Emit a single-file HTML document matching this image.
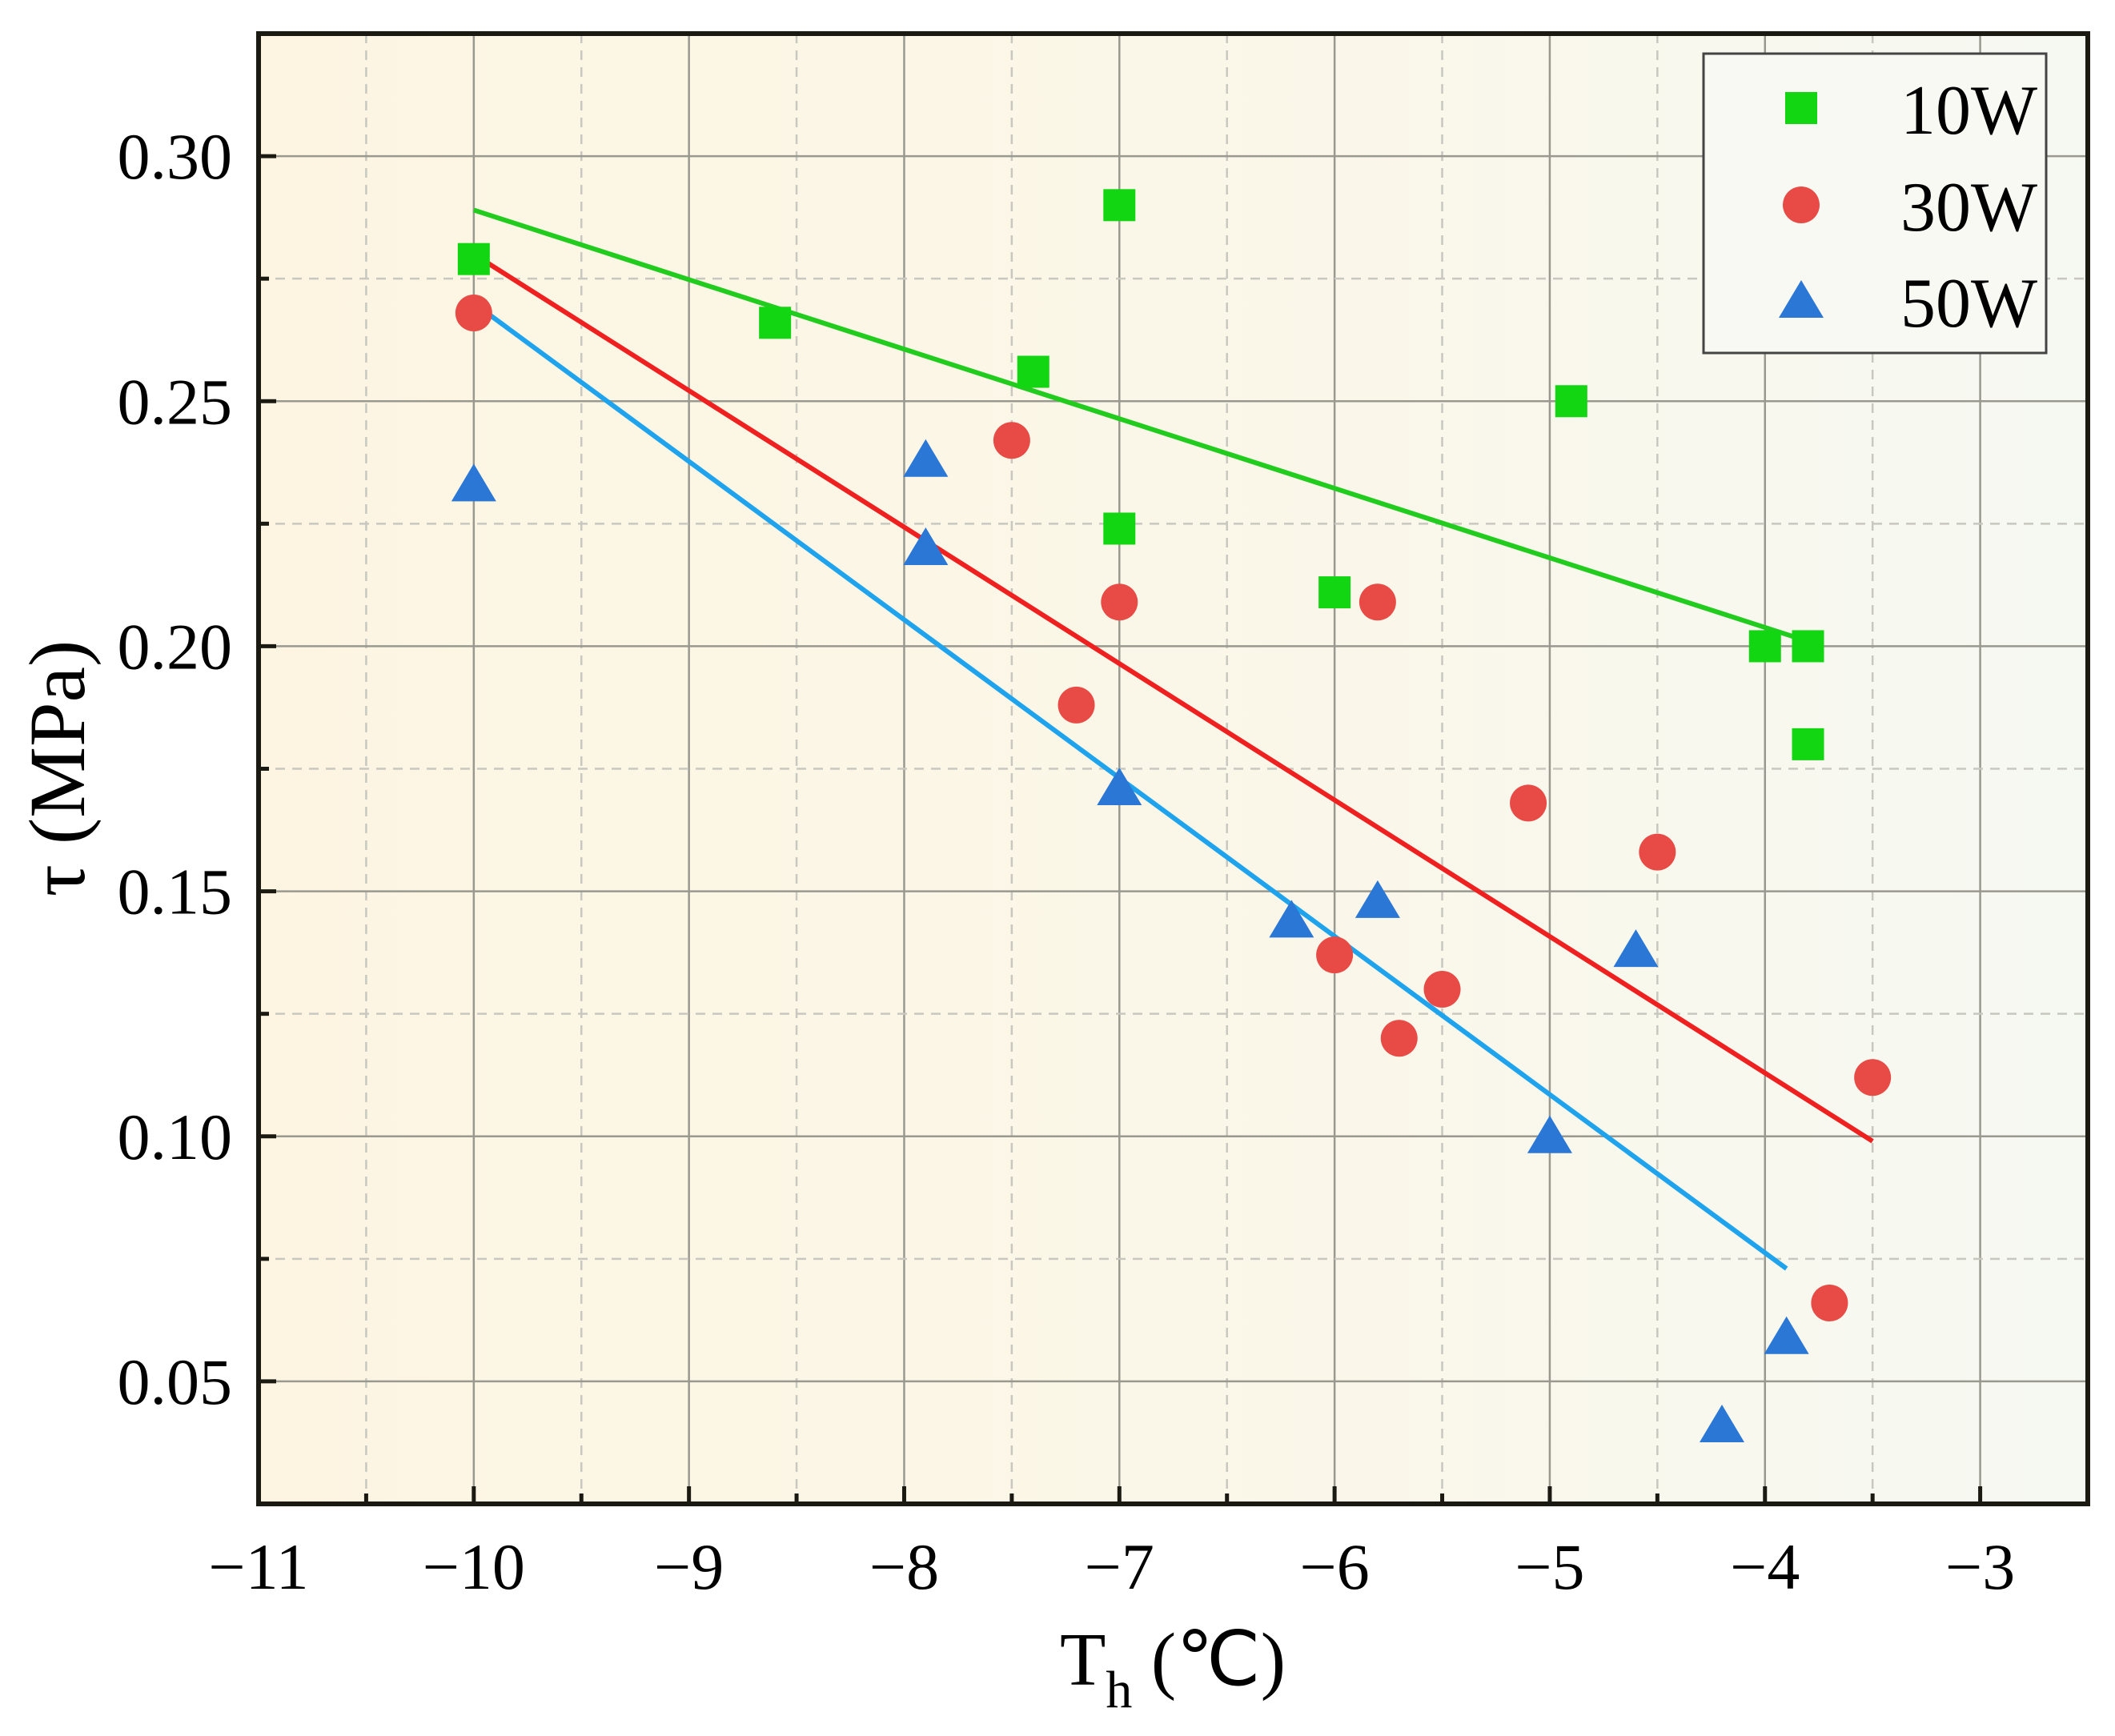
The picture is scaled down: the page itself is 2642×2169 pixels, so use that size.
<!DOCTYPE html>
<html><head><meta charset="utf-8"><style>
html,body{margin:0;padding:0;background:#fff;}
svg{display:block;font-family:"Liberation Serif",serif;}
</style></head><body>
<svg id="chart" width="2642" height="2169" viewBox="0 0 2642 2169" xmlns="http://www.w3.org/2000/svg">
<defs>
<linearGradient id="bg" x1="0" y1="0" x2="1" y2="0">
<stop offset="0" stop-color="#fdf5e2"/><stop offset="0.5" stop-color="#fbf7e8"/><stop offset="1" stop-color="#f6f8f2"/>
</linearGradient>
</defs>
<g id="root"></g>
</svg>
<script>
const xTicks=[-11,-10,-9,-8,-7,-6,-5,-4,-3];
const yTicks=[0.05,0.10,0.15,0.20,0.25,0.30];
const yTickLabels=["0.05","0.10","0.15","0.20","0.25","0.30"];
const x10=[-10,-8.6,-7.4,-7,-7,-4.9,-6,-4,-3.8,-3.8];
const y10=[0.279,0.266,0.256,0.290,0.224,0.250,0.211,0.200,0.200,0.180];
const x30=[-10,-7.5,-7,-7.2,-5.8,-6,-5.7,-5.5,-5.1,-4.5,-3.5,-3.7];
const y30=[0.268,0.242,0.209,0.188,0.209,0.137,0.120,0.130,0.168,0.158,0.112,0.066];
const x50=[-10,-7.9,-7.9,-7,-6.2,-5.8,-4.6,-5,-3.9,-4.2];
const y50=[0.233,0.238,0.220,0.171,0.144,0.148,0.138,0.100,0.059,0.041];
const fit10x=[-10,-3.8], fit10y=[0.289,0.201];
const fit30x=[-10,-3.5], fit30y=[0.280,0.099];
const fit50x=[-10,-3.9], fit50y=[0.270,0.073];

const L=323,R=2608,T=42,B=1879,X0=-11,X1=-2.5,Y0=0.025,Y1=0.325;
const sx=v=>L+(v-X0)/(X1-X0)*(R-L);
const sy=v=>B-(v-Y0)/(Y1-Y0)*(B-T);
const NS="http://www.w3.org/2000/svg";
const root=document.getElementById('root');
function mk(tag,attrs,parent){const e=document.createElementNS(NS,tag);for(const k in attrs)e.setAttribute(k,attrs[k]);(parent||root).appendChild(e);return e;}

const bg=mk('rect',{x:L,y:T,width:R-L,height:B-T,fill:'url(#bg)'});



const grid=mk('g',{});


for(let v=-10.5;v<X1;v+=1){mk('line',{x1:sx(v),x2:sx(v),y1:T,y2:B,stroke:'#c8c8c0','stroke-width':2.5,'stroke-dasharray':'12 9'},grid);}
for(let i=1;i<xTicks.length;i++){if(xTicks[i]<X1)mk('line',{x1:sx(xTicks[i]),x2:sx(xTicks[i]),y1:T,y2:B,stroke:'#999990','stroke-width':2.5},grid);}
for(let i=0;i<yTicks.length;i++){mk('line',{x1:L,x2:R,y1:sy(yTicks[i]),y2:sy(yTicks[i]),stroke:'#999990','stroke-width':2.5},grid);}
for(let i=0;i<yTicks.length;i++){const v=yTicks[i]+0.025;if(v<Y1)mk('line',{x1:L,x2:R,y1:sy(v),y2:sy(v),stroke:'#c8c8c0','stroke-width':2.5,'stroke-dasharray':'12 9'},grid);}

function fit(xs,ys,color,name){const l=mk('line',{x1:sx(xs[0]),y1:sy(ys[0]),x2:sx(xs[1]),y2:sy(ys[1]),stroke:color,'stroke-width':6});

}
fit(fit10x,fit10y,'#22cc1e','fit-line-10w');
fit(fit30x,fit30y,'#ee2020','fit-line-30w');
fit(fit50x,fit50y,'#1ea3ec','fit-line-50w');

function sq(cx,cy,p){return mk('rect',{x:cx-20,y:cy-20,width:40,height:40,fill:'#13d613'},p);}
function ci(cx,cy,p){return mk('circle',{cx:cx,cy:cy,r:23,fill:'#e84a45'},p);}
function tri(cx,cy,p){return mk('polygon',{points:`${cx},${cy-26} ${cx+28},${cy+21} ${cx-28},${cy+21}`,fill:'#2a77d6'},p);}
const g10=mk('g',{});
for(let i=0;i<x10.length;i++){const m=sq(sx(x10[i]),sy(y10[i]),g10);

}
const g30=mk('g',{});
for(let i=0;i<x30.length;i++){const m=ci(sx(x30[i]),sy(y30[i]),g30);

}
const g50=mk('g',{});
for(let i=0;i<x50.length;i++){const m=tri(sx(x50[i]),sy(y50[i]),g50);

}

const frame=mk('rect',{x:L,y:T,width:R-L,height:B-T,fill:'none',stroke:'#1a1a12','stroke-width':6});


for(let i=0;i<xTicks.length;i++){const x=sx(xTicks[i]);
mk('line',{x1:x,x2:x,y1:B,y2:B-22,stroke:'#1a1a12','stroke-width':5});
if(xTicks[i]+0.5<X1)mk('line',{x1:sx(xTicks[i]+0.5),x2:sx(xTicks[i]+0.5),y1:B,y2:B-13,stroke:'#1a1a12','stroke-width':5});
const t=mk('text',{x:x,y:1985,'font-size':82,'text-anchor':'middle',fill:'#000'});
t.textContent='\u2212'+Math.abs(xTicks[i]);

}
for(let i=0;i<yTicks.length;i++){const y=sy(yTicks[i]);
mk('line',{x1:L,x2:L+22,y1:y,y2:y,stroke:'#1a1a12','stroke-width':5});
const ym=sy(yTicks[i]-0.025);if(yTicks[i]-0.025>Y0)mk('line',{x1:L,x2:L+13,y1:ym,y2:ym,stroke:'#1a1a12','stroke-width':5});
const t=mk('text',{x:290,y:y+28,'font-size':82,'text-anchor':'end',fill:'#000'});
t.textContent=yTickLabels[i];

}

const xt=mk('text',{x:1465,y:2105,'font-size':94,'text-anchor':'middle',fill:'#000'});
xt.innerHTML='T<tspan font-size="66" dy="28">h</tspan><tspan dy="-28"> (℃)</tspan>';


const yt=mk('text',{x:0,y:0,'font-size':100,'text-anchor':'middle',fill:'#000',transform:'translate(105,960) rotate(-90)'});
yt.textContent='τ (MPa)';



const lg=mk('g',{});


mk('rect',{x:2128,y:67,width:428,height:374,fill:'#f9f9f4',stroke:'#444','stroke-width':3},lg);
const labs=['10W','30W','50W'],ly=[135,256,376];
sq(2250,ly[0],lg);ci(2250,ly[1],lg);tri(2250,ly[2],lg);
for(let i=0;i<3;i++){const t=mk('text',{x:2545,y:ly[i]+32,'font-size':88,'text-anchor':'end',fill:'#000'},lg);
t.textContent=labs[i];

}
</script>
</body></html>
